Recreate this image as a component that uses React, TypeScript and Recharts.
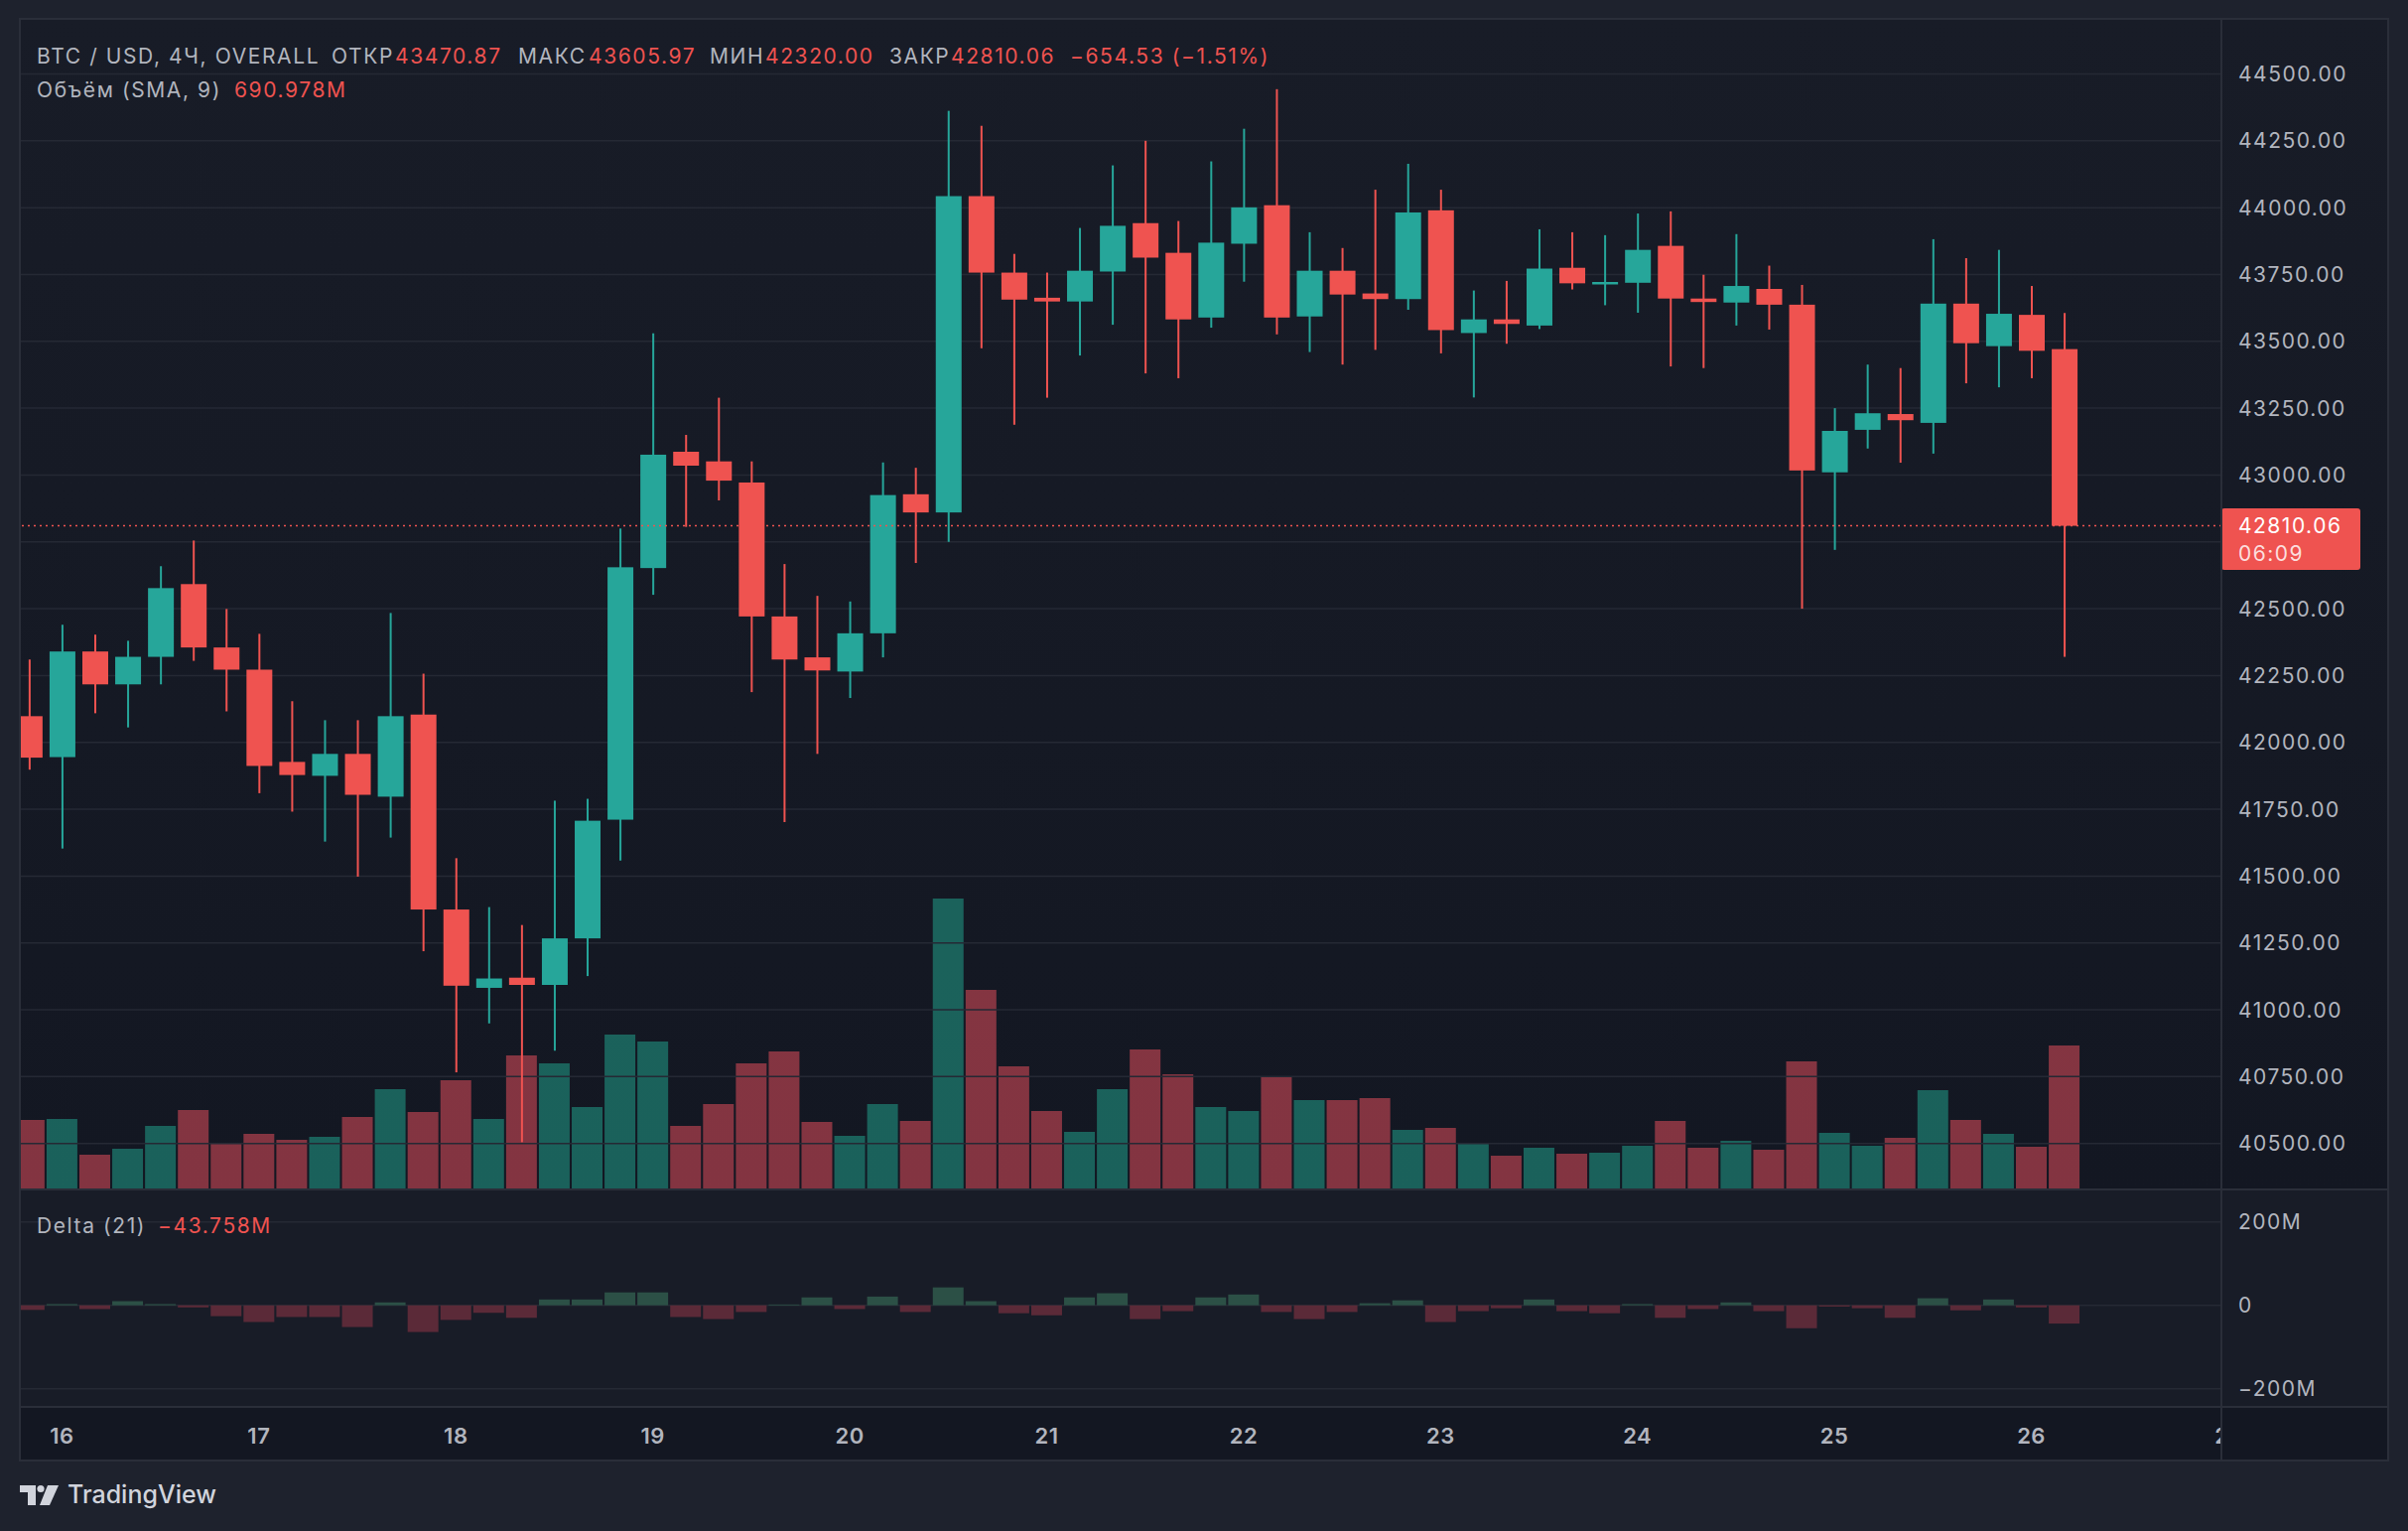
import React from 'react';
import { ComposedChart, Bar, XAxis, YAxis, CartesianGrid, ReferenceLine, Cell } from 'recharts';

// ---------- data (4H candles, BTC / USD, 15 Jan 20:00 .. 26 Jan 04:00) ----------
const opens = [
  42098, 41945, 42340, 42217, 42320, 42592, 42355, 42272, 41927, 41875,
  41957, 41797, 42104, 41375, 41082, 41120, 41093, 41267, 41711, 42652,
  43087, 43051, 42972, 42471, 42318, 42265, 42408, 42928, 42860, 44043,
  43757, 43663, 43649, 43761, 43942, 43831, 43589, 43865, 44009, 43593,
  43764, 43679, 43658, 43990, 43531, 43582, 43559, 43775, 43716, 43719,
  43857, 43660, 43645, 43696, 43637, 43010, 43169, 43228, 43195, 43641,
  43482, 43599, 43470.87,
];
const highs = [
  42310, 42440, 42403, 42380, 42659, 42755, 42499, 42406, 42154, 42083,
  42083, 42484, 42257, 41567, 41384, 41317, 41782, 41789, 42800, 43530,
  43150, 43289, 43051, 42667, 42548, 42527, 43047, 43027, 44362, 44306,
  43827, 43757, 43924, 44158, 44250, 43950, 44173, 44295, 44443, 43908,
  43849, 44067, 44164, 44067, 43690, 43726, 43919, 43908, 43897, 43978,
  43986, 43749, 43901, 43783, 43711, 43250, 43413, 43400, 43882, 43811,
  43842, 43707, 43605.97,
];
const lows = [
  41898, 41603, 42109, 42056, 42217, 42305, 42116, 41810, 41741, 41629,
  41498, 41644, 41219, 40766, 40949, 40505, 40847, 41126, 41558, 42552,
  42806, 42905, 42188, 41702, 41957, 42166, 42318, 42671, 42750, 43474,
  43188, 43289, 43447, 43562, 43380, 43362, 43551, 43723, 43526, 43460,
  43413, 43468, 43618, 43455, 43290, 43491, 43546, 43694, 43635, 43607,
  43406, 43400, 43559, 43544, 42500, 42720, 43099, 43046, 43080, 43343,
  43328, 43362, 42320.0,
];
const closes = [
  41943, 42340, 42217, 42320, 42577, 42355, 42272, 41912, 41878, 41957,
  41804, 42098, 41375, 41090, 41117, 41093, 41267, 41707, 42655, 43076,
  43035, 42979, 42471, 42310, 42269, 42408, 42925, 42860, 44043, 43757,
  43656, 43649, 43764, 43932, 43813, 43582, 43869, 44001, 43589, 43764,
  43675, 43658, 43982, 43542, 43582, 43565, 43772, 43717, 43722, 43842,
  43660, 43647, 43707, 43637, 43017, 43165, 43231, 43205, 43641, 43493,
  43603, 43464.59, 42810.06,
];
// volume in millions USD
const volumesM = [
  625, 634, 313, 366, 572, 715, 420, 500, 447, 473,
  652, 902, 697, 983, 634, 1206, 1135, 742, 1394, 1331,
  572, 768, 1135, 1242, 608, 482, 768, 616, 2618, 1796,
  1108, 706, 518, 902, 1260, 1036, 742, 706, 1018, 804,
  804, 822, 536, 554, 411, 304, 375, 322, 331, 393,
  616, 375, 438, 357, 1152, 509, 393, 465, 893, 625,
  500, 384, 1295,
];
// delta in millions USD
const deltasM = [
  -11, 3, -9, 10, 3, -5, -26, -40, -28, -28,
  -52, 7, -64, -35, -18, -30, 14, 14, 31, 31,
  -28, -33, -16, 2, 19, -9, 21, -16, 43, 10,
  -19, -24, 19, 29, -33, -14, 19, 26, -16, -33,
  -16, 5, 12, -40, -14, -7, 14, -14, -19, 3,
  -30, -9, 7, -14, -55, -3, -7, -30, 17, -12,
  14, -5, -43.758,
];
const dayTicks = [1, 7, 13, 19, 25, 31, 37, 43, 49, 55, 61, 67];
const dayLabels = ['16', '17', '18', '19', '20', '21', '22', '23', '24', '25', '26', '27'];
const priceTicks = [
  40500, 40750, 41000, 41250, 41500, 41750, 42000, 42250,
  42500, 42750, 43000, 43250, 43500, 43750, 44000, 44250, 44500,
];
const deltaTicks = [-200, 0, 200];
const headerTitle = 'BTC / USD, 4Ч, OVERALL';
const volumeLegend = 'Объём (SMA, 9)';
const volumeLegendValue = '690.978M';
const deltaLegend = 'Delta (21)';
const deltaLegendValue = '−43.758M';
const countdownLabel = '06:09';

// ---------- layout & style ----------
const PAGE_W = 2426;
const PAGE_H = 1542;
const FRAME_L = 20;
const FRAME_T = 19;
const FRAME_W = 2386;
const AXIS_W = 168;
const PLOT_W = FRAME_W - AXIS_W;
const PRICE_H = 1179;
const DELTA_H = 273;
const TIME_H = 54;
const X_DOMAIN: [number, number] = [-0.284, 66.79];
const PRICE_DOMAIN: [number, number] = [40328, 44706];
const VOL_DOMAIN: [number, number] = [0, 10533];
const DELTA_DOMAIN: [number, number] = [-243.6, 277.9];

const UP = '#26a69a';
const DOWN = '#ef5350';
const VOL_UP = 'rgba(34,171,148,0.5)';
const VOL_DOWN = 'rgba(244,82,95,0.5)';
const DELTA_UP = '#2c5046';
const DELTA_DOWN = '#5b2a38';
const GRID = '#252934';
const BORDER = '#2a2e39';
const TEXT = '#b2b5be';
const FONT = 'Inter, "Noto Sans", "DejaVu Sans", sans-serif';

const lastIdx = closes.length - 1;
const lastClose = closes[lastIdx];
const gridDayTicks = dayTicks.filter((t) => t <= lastIdx);

const rows = opens.map((o, i) => ({
  i,
  open: o,
  high: highs[i],
  low: lows[i],
  close: closes[i],
  range: [lows[i], highs[i]],
  vol: volumesM[i],
  delta: deltasM[i],
}));

const CandleShape = (props: any) => {
  const { x, y, width, height, payload } = props;
  if (x == null || y == null || !payload) return null;
  const { open, close, high, low } = payload;
  const top = Math.min(y, y + height);
  const h = Math.abs(height);
  const span = high - low;
  const k = span > 0 ? h / span : 0;
  const yOf = (v: number) => top + (high - v) * k;
  const color = close >= open ? UP : DOWN;
  const cx = x + width / 2;
  const bTop = yOf(Math.max(open, close));
  const bBot = yOf(Math.min(open, close));
  const bH = Math.max(2.5, bBot - bTop);
  return (
    <g>
      <rect x={cx - 1} y={top} width={2} height={Math.max(h, 1)} fill={color} />
      <rect x={x} y={bTop} width={width} height={bH} fill={color} />
    </g>
  );
};

const PriceTick = (props: any) => {
  const { x, y, payload } = props;
  const v = payload.value as number;
  // TradingView hides the scale label that sits under the last-price badge
  if (v < lastClose + 100 && v > lastClose - 200) return null;
  return (
    <text x={x} y={y} dy="0.36em" fill={TEXT} fontSize={21} fontFamily={FONT} letterSpacing={1.5}>
      {v.toFixed(2)}
    </text>
  );
};

const DeltaTick = (props: any) => {
  const { x, y, payload } = props;
  const v = payload.value as number;
  const s = v === 0 ? '0' : v > 0 ? `${v}M` : `−${-v}M`;
  return (
    <text x={x} y={y} dy="0.36em" fill={TEXT} fontSize={21} fontFamily={FONT} letterSpacing={1.5}>
      {s}
    </text>
  );
};

const DayTick = (props: any) => {
  const { x, y, payload, index } = props;
  const label = dayLabels[dayTicks.indexOf(payload.value)];
  const id = `dayclip-${index}`;
  return (
    <g>
      <defs>
        <clipPath id={id}>
          <rect x={0} y={y - 10} width={PLOT_W} height={TIME_H + 20} />
        </clipPath>
      </defs>
      <text
        x={x}
        y={y + 37}
        textAnchor="middle"
        fill={TEXT}
        fontSize={22}
        fontWeight={600}
        fontFamily={FONT}
        letterSpacing={0.5}
        clipPath={`url(#${id})`}
      >
        {label}
      </text>
    </g>
  );
};

const LastPriceLabel = (props: any) => {
  const vb = props.viewBox || {};
  const bx = (vb.x ?? 0) + (vb.width ?? 0);
  const y = vb.y ?? 0;
  return (
    <g>
      <rect x={bx} y={y - 17.6} width={140} height={62} rx={3} fill={DOWN} />
      <text x={bx + 17} y={y} dy="0.36em" fill="#ffffff" fontSize={21} fontFamily={FONT} letterSpacing={1.5}>
        {lastClose.toFixed(2)}
      </text>
      <text x={bx + 17} y={y + 28} dy="0.36em" fill="rgba(255,255,255,0.82)" fontSize={21} fontFamily={FONT} letterSpacing={1.5}>
        {countdownLabel}
      </text>
    </g>
  );
};

const abs = (left: number, top: number, extra: React.CSSProperties = {}): React.CSSProperties => ({
  position: 'absolute',
  left,
  top,
  ...extra,
});

const Seg = ({ left, top, color, children }: any) => (
  <span
    style={{
      position: 'absolute',
      left,
      top,
      color,
      whiteSpace: 'nowrap',
      fontFamily: FONT,
      fontSize: 21,
      lineHeight: '24px',
      letterSpacing: 1.6,
    }}
  >
    {children}
  </span>
);

export default function App() {
  const o = opens[lastIdx];
  const h = highs[lastIdx];
  const l = lows[lastIdx];
  const c = closes[lastIdx];
  const chg = c - closes[lastIdx - 1];
  const sign = chg < 0 ? '−' : '+';
  const chgText = `${sign}${Math.abs(chg).toFixed(2)} (${sign}${Math.abs((chg / closes[lastIdx - 1]) * 100).toFixed(2)}%)`;

  return (
    <div style={abs(0, 0, { width: PAGE_W, height: PAGE_H, background: '#1e222d', overflow: 'hidden' })}>
      {/* chart frame backgrounds */}
      <div style={abs(FRAME_L, FRAME_T, { width: FRAME_W, height: PRICE_H, background: 'linear-gradient(#181c27, #131722)' })} />
      <div style={abs(FRAME_L, FRAME_T + PRICE_H, { width: FRAME_W, height: DELTA_H - TIME_H, background: '#181c27' })} />
      <div style={abs(FRAME_L, FRAME_T + PRICE_H + DELTA_H - TIME_H, { width: FRAME_W, height: TIME_H, background: '#131722' })} />

      {/* volume overlay */}
      <div style={abs(FRAME_L, FRAME_T)}>
        <ComposedChart width={FRAME_W} height={PRICE_H} data={rows} margin={{ top: 0, right: AXIS_W, bottom: 0, left: 0 }}>
          <XAxis dataKey="i" type="number" domain={X_DOMAIN} allowDataOverflow hide />
          <YAxis type="number" domain={VOL_DOMAIN} allowDataOverflow hide />
          <Bar dataKey="vol" barSize={31} isAnimationActive={false}>
            {rows.map((r) => (
              <Cell key={r.i} fill={r.close >= r.open ? VOL_UP : VOL_DOWN} />
            ))}
          </Bar>
        </ComposedChart>
      </div>

      {/* price pane */}
      <div style={abs(FRAME_L, FRAME_T)}>
        <ComposedChart width={FRAME_W} height={PRICE_H} data={rows} margin={{ top: 0, right: 0, bottom: 0, left: 0 }}>
          <CartesianGrid stroke={GRID} strokeWidth={1.5} xAxisId="x" yAxisId="p" />
          <XAxis
            xAxisId="x"
            dataKey="i"
            type="number"
            domain={X_DOMAIN}
            ticks={gridDayTicks}
            allowDataOverflow
            height={0}
            tick={false}
            axisLine={false}
            tickLine={false}
          />
          <YAxis
            yAxisId="p"
            orientation="right"
            width={AXIS_W}
            type="number"
            domain={PRICE_DOMAIN}
            ticks={priceTicks}
            allowDataOverflow
            interval={0}
            axisLine={false}
            tickLine={false}
            tickSize={0}
            tickMargin={17}
            tick={<PriceTick />}
          />
          <Bar xAxisId="x" yAxisId="p" dataKey="range" barSize={26} shape={<CandleShape />} isAnimationActive={false} />
          <ReferenceLine
            xAxisId="x"
            yAxisId="p"
            y={lastClose}
            stroke={DOWN}
            strokeWidth={1.5}
            strokeDasharray="2 4"
            label={<LastPriceLabel />}
          />
        </ComposedChart>
      </div>

      {/* delta pane + time axis */}
      <div style={abs(FRAME_L, FRAME_T + PRICE_H)}>
        <ComposedChart width={FRAME_W} height={DELTA_H} data={rows} margin={{ top: 0, right: 0, bottom: 0, left: 0 }}>
          <CartesianGrid stroke={GRID} strokeWidth={1.5} xAxisId="g" yAxisId="d" />
          <XAxis
            xAxisId="g"
            dataKey="i"
            type="number"
            domain={X_DOMAIN}
            ticks={gridDayTicks}
            allowDataOverflow
            height={0}
            tick={false}
            axisLine={false}
            tickLine={false}
          />
          <XAxis
            xAxisId="t"
            dataKey="i"
            type="number"
            domain={X_DOMAIN}
            ticks={dayTicks}
            allowDataOverflow
            interval={0}
            height={TIME_H}
            axisLine={false}
            tickLine={false}
            tickSize={0}
            tickMargin={0}
            tick={<DayTick />}
          />
          <YAxis
            yAxisId="d"
            orientation="right"
            width={AXIS_W}
            type="number"
            domain={DELTA_DOMAIN}
            ticks={deltaTicks}
            allowDataOverflow
            interval={0}
            axisLine={false}
            tickLine={false}
            tickSize={0}
            tickMargin={17}
            tick={<DeltaTick />}
          />
          <Bar xAxisId="g" yAxisId="d" dataKey="delta" barSize={31} isAnimationActive={false}>
            {rows.map((r) => (
              <Cell key={r.i} fill={r.delta >= 0 ? DELTA_UP : DELTA_DOWN} />
            ))}
          </Bar>
        </ComposedChart>
      </div>

      {/* separators and frame */}
      <div style={abs(FRAME_L, FRAME_T + PRICE_H - 1, { width: FRAME_W, height: 2, background: BORDER })} />
      <div style={abs(FRAME_L, FRAME_T + PRICE_H + DELTA_H - TIME_H - 1, { width: FRAME_W, height: 2, background: BORDER })} />
      <div style={abs(FRAME_L + PLOT_W - 1, FRAME_T, { width: 2, height: PRICE_H + DELTA_H, background: BORDER })} />
      <div
        style={abs(FRAME_L - 1, FRAME_T - 1, {
          width: FRAME_W + 2,
          height: PRICE_H + DELTA_H + 2,
          border: `2px solid ${BORDER}`,
          boxSizing: 'border-box',
        })}
      />

      {/* legends */}
      <Seg left={37} top={45} color={TEXT}>{headerTitle}</Seg>
      <Seg left={334} top={45} color={TEXT}>ОТКР</Seg>
      <Seg left={398} top={45} color={DOWN}>{o.toFixed(2)}</Seg>
      <Seg left={522} top={45} color={TEXT}>МАКС</Seg>
      <Seg left={593} top={45} color={DOWN}>{h.toFixed(2)}</Seg>
      <Seg left={715} top={45} color={TEXT}>МИН</Seg>
      <Seg left={771} top={45} color={DOWN}>{l.toFixed(2)}</Seg>
      <Seg left={896} top={45} color={TEXT}>ЗАКР</Seg>
      <Seg left={958} top={45} color={DOWN}>{c.toFixed(2)}</Seg>
      <Seg left={1078} top={45} color={DOWN}>{chgText}</Seg>

      <Seg left={37} top={79} color={TEXT}>{volumeLegend}</Seg>
      <Seg left={236} top={79} color={DOWN}>{volumeLegendValue}</Seg>

      <Seg left={37} top={1223} color={TEXT}>{deltaLegend}</Seg>
      <Seg left={159} top={1223} color={DOWN}>{deltaLegendValue}</Seg>

      {/* TradingView logo */}
      <svg style={abs(20, 1494)} width={42} height={24} viewBox="0 0 42 24">
        <polygon points="0,2 16,2 16,22 8,22 8,9 0,9" fill="#d1d4dc" />
        <circle cx={21} cy={5.5} r={3.6} fill="#d1d4dc" />
        <polygon points="28,2 39,2 30,22 20,22" fill="#d1d4dc" />
      </svg>
      <span
        style={abs(68, 1490, {
          fontFamily: FONT,
          fontSize: 25,
          fontWeight: 500,
          lineHeight: '30px',
          color: '#d1d4dc',
          whiteSpace: 'nowrap',
        })}
      >
        TradingView
      </span>
    </div>
  );
}
